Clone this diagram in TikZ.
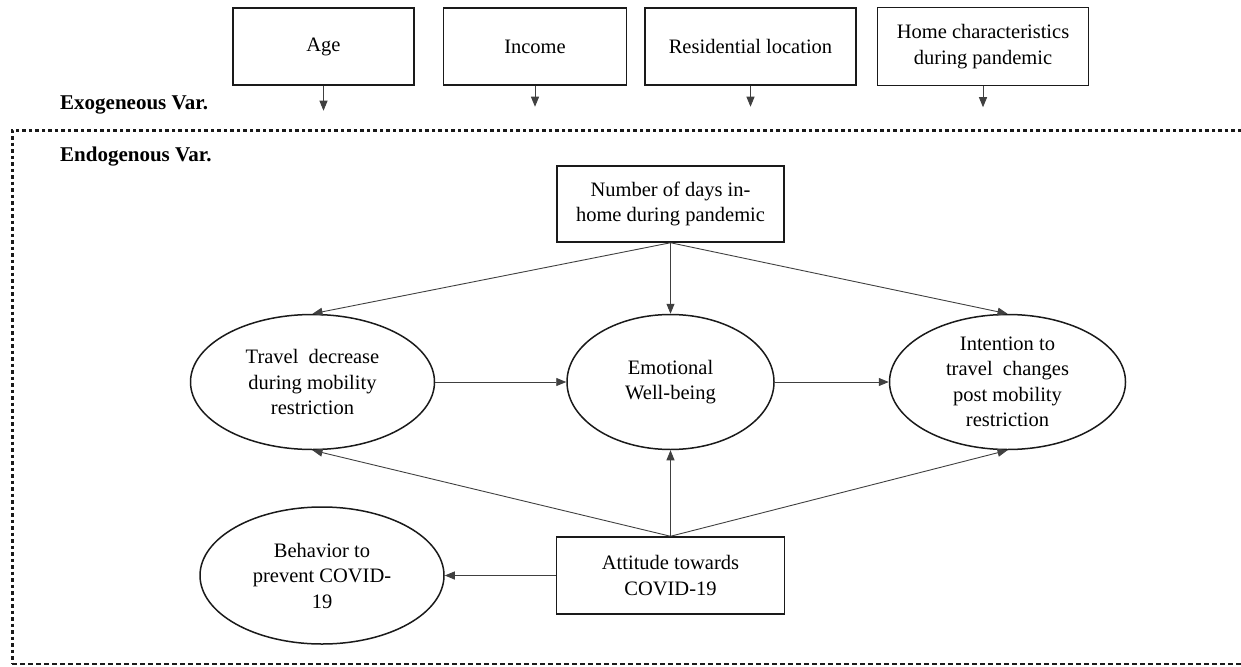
\documentclass[tikz,border=0pt]{standalone}
\usepackage{fontspec}
\setmainfont{Liberation Serif}
\usepackage{tikz}
\usetikzlibrary{arrows.meta,positioning,shapes.geometric}
\usepackage{xcolor}
\definecolor{ink}{HTML}{1A1A1A}
\definecolor{wire}{HTML}{404040}
\tikzset{
  varbox/.style={draw=ink,line width=1.5pt,fill=white,align=center,inner sep=0pt,font=\fontsize{20.5}{25.5}\selectfont},
  latent/.style={ellipse,draw=ink,line width=1.5pt,fill=white,align=center,inner sep=0pt,font=\fontsize{20.5}{25.5}\selectfont},
  tag/.style={anchor=west,inner sep=0pt,font=\fontsize{21}{24}\selectfont\bfseries},
  arr/.style={-{Triangle[length=10pt,width=8pt]},line width=0.9pt,draw=wire}
}
\begin{document}
\begin{tikzpicture}[x=1pt,y=-1pt]
    \useasboundingbox (0,0) rectangle (1241,666);
    % exogenous variables
    \node[varbox,minimum width=181pt,minimum height=77pt] (age) at (323.5,46.5) {Age};
    \node[varbox,right=28pt of age,minimum width=183pt,minimum height=77pt] (income) {Income};
    \node[varbox,right=17pt of income,minimum width=211pt,minimum height=77pt] (resid) {Residential location};
    \node[varbox,right=20pt of resid,minimum width=211pt,minimum height=78pt] (home) {Home characteristics\\during pandemic};
    \coordinate[below=25pt of age] (agept);
    \coordinate[below=21pt of income] (incomept);
    \coordinate[below=21pt of resid] (residpt);
    \coordinate[below=21pt of home] (homept);
    \draw[arr] (age) -- (agept);
    \draw[arr] (income) -- (incomept);
    \draw[arr] (resid) -- (residpt);
    \draw[arr] (home) -- (homept);
    \node[tag] (exolabel) at (60,105) {Exogeneous Var.};
    % endogenous block
    \draw[line width=3pt,dash pattern=on 3.5pt off 3pt,draw=ink] (1241,130) -- (12,130) -- (12,664);
    \draw[line width=1.2pt,dash pattern=on 5pt off 3pt,draw=ink] (12,664) -- (1241,664);
    \node[tag] (endolabel) at (60,157) {Endogenous Var.};
    \node[varbox,minimum width=227pt,minimum height=76pt] (days) at (670.5,204) {Number of days in-\\home during pandemic};
    \node[latent,below=71pt of days,minimum width=207pt,minimum height=135pt] (emo) {Emotional\\Well-being};
    \node[latent,left=131pt of emo,minimum width=244pt,minimum height=135pt] (travel) {Travel\ \ decrease\\during mobility\\restriction};
    \node[latent,right=114pt of emo,minimum width=236pt,minimum height=135pt] (intent) {Intention to\\travel\ \ changes\\post mobility\\restriction};
    \node[varbox,below=86pt of emo,minimum width=228pt,minimum height=77pt] (attit) {Attitude towards\\COVID-19};
    \node[latent,left=111pt of attit,minimum width=244pt,minimum height=137pt] (behav) {Behavior to\\prevent COVID-\\19};
    \draw[arr] (days.south) -- (travel.north);
    \draw[arr] (days.south) -- (emo.north);
    \draw[arr] (days.south) -- (intent.north);
    \draw[arr] (travel) -- (emo);
    \draw[arr] (emo) -- (intent);
    \draw[arr] (attit.north) -- (travel.south);
    \draw[arr] (attit.north) -- (emo.south);
    \draw[arr] (attit.north) -- (intent.south);
    \draw[arr] (attit) -- (behav);
  \end{tikzpicture}
\end{document}
